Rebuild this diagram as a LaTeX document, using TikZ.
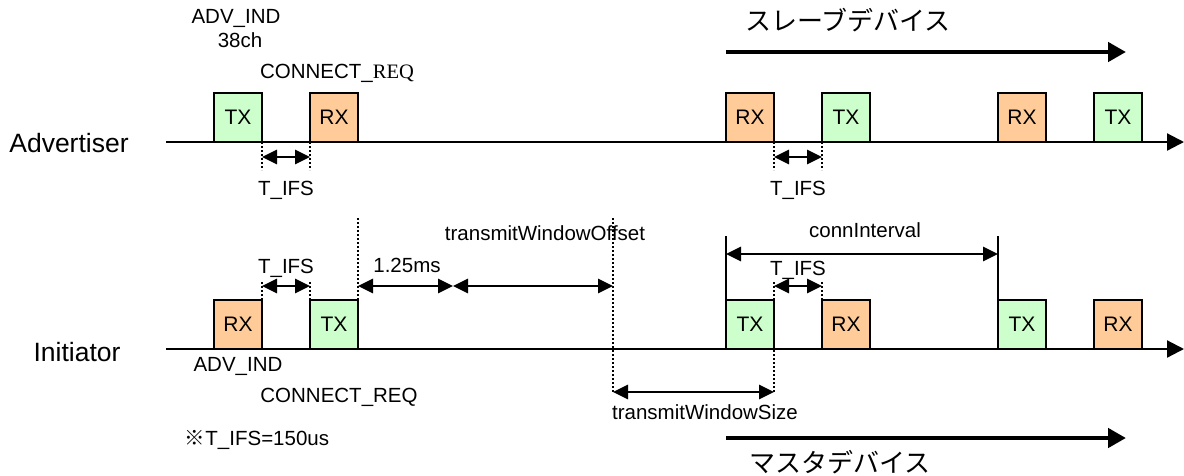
\documentclass[tikz,border=0pt]{standalone}
\usepackage{fontspec}
\setmainfont{Liberation Sans}
\newfontfamily\serif{Liberation Serif}
\newfontfamily\cjk{Noto Sans CJK JP}
\usetikzlibrary{arrows.meta}
\definecolor{txgreen}{HTML}{CCFFCC}
\definecolor{rxorange}{HTML}{FFCC99}
\tikzset{
  slotbox/.style={draw, line width=2.2pt, minimum width=48pt, minimum height=49pt, inner sep=0pt, outer sep=0pt, font=\fontsize{21}{24}\selectfont},
  txbox/.style={slotbox, fill=txgreen},
  rxbox/.style={slotbox, fill=rxorange},
  axis/.style={line width=2.2pt, -{Triangle[length=17pt,width=17pt]}},
  role/.style={-{Triangle[length=18pt,width=19pt]}, line width=4.5pt},
  tick/.style={line width=2pt, dotted},
  span/.style={{Triangle[length=15pt,width=14pt]}-{Triangle[length=15pt,width=14pt]}, line width=2.8pt},
  lbl/.style={inner sep=0pt},
}

\begin{document}
\begin{tikzpicture}[x=1pt, y=-1pt, font=\fontsize{20.5}{23}\selectfont]
  \useasboundingbox (0,0) rectangle (1184,475);
  % time axes
  \node[lbl, font=\fontsize{26.5}{29}\selectfont] (adv) at (69,143) {Advertiser};
  \node[lbl, font=\fontsize{26.5}{29}\selectfont] (ini) at (77,352) {Initiator};
  \coordinate (adv0) at (166,142); \coordinate (adv1) at (1184,142);
  \coordinate (ini0) at (166,349); \coordinate (ini1) at (1184,349);
  \draw[axis] (adv0) -- (adv1);
  \draw[axis] (ini0) -- (ini1);
  % slots, advertiser row y=117.5, initiator row y=324.5
  \foreach \n/\x/\k/\t in {a1/238/txbox/TX, a2/334/rxbox/RX, a3/750/rxbox/RX, a4/846/txbox/TX, a5/1022/rxbox/RX, a6/1118/txbox/TX}{
    \node[\k] (\n) at (\x,117.5) {\t};}
  \foreach \n/\x/\k/\t in {i1/238/rxbox/RX, i2/334/txbox/TX, i3/750/txbox/TX, i4/846/rxbox/RX, i5/1022/txbox/TX, i6/1118/rxbox/RX}{
    \node[\k] (\n) at (\x,324.5) {\t};}
  % advertiser T_IFS
  \draw[tick] (a1.south east) -- ++(0,28);
  \draw[tick] (a2.south west) -- ++(0,28);
  \draw[span] ([yshift=-15pt]a1.south east) -- ([yshift=-15pt]a2.south west);
  \node[lbl] (ifs1) at (286,190) {T\_IFS};
  \draw[tick] (a3.south east) -- ++(0,28);
  \draw[tick] (a4.south west) -- ++(0,28);
  \draw[span] ([yshift=-15pt]a3.south east) -- ([yshift=-15pt]a4.south west);
  \node[lbl] (ifs2) at (798,190) {T\_IFS};
  % initiator T_IFS
  \draw[tick] (i1.north east) -- ++(0,-18);
  \draw[tick] (i2.north west) -- ++(0,-18);
  \draw[span] ([yshift=14pt]i1.north east) -- ([yshift=14pt]i2.north west);
  \node[lbl] (ifs3) at (286,268) {T\_IFS};
  % transmit window
  \coordinate (off) at (613,218); \coordinate (offb) at (613,392);
  \coordinate (m125) at ([xshift=95pt,yshift=14pt]i2.north east);
  \draw[tick] (i2.north east) -- ++(0,-82);
  \draw[tick] (off) -- (offb);
  \draw[span] ([yshift=14pt]i2.north east) -- (m125);
  \draw[span] (m125) -- (off |- m125);
  \node[lbl] (ms) at (407,265) {1.25ms};
  \node[lbl] (wofs) at (545,233) {transmitWindowOffset};
  \draw[tick] ([yshift=18pt]i3.north east) -- (i3.south east |- offb);
  \draw[span] (offb) -- (i3.south east |- offb);
  \node[lbl] (wsize) at (705,412) {transmitWindowSize};
  \draw[tick] (i4.north west) -- ++(0,-18);
  \draw[span] ([yshift=14pt]i3.north east) -- ([yshift=14pt]i4.north west);
  \node[lbl] (ifs4) at (798,270) {T\_IFS};
  % connInterval
  \draw[line width=2pt] (i3.north west) -- ++(0,-64);
  \draw[line width=2pt] (i5.north west) -- ++(0,-64);
  \draw[span] ([yshift=46pt]i3.north west) -- ([yshift=46pt]i5.north west);
  \node[lbl] (conn) at (865,230) {connInterval};
  % packet names
  \node[lbl] (advind1) at (236,18) {ADV\_IND};
  \node[lbl] (ch) at (240,40) {38ch};
  \node[lbl] (creq1) at (337,73) {CONNECT\_{\serif REQ}};
  \node[lbl] (advind2) at (238,366) {ADV\_IND};
  \node[lbl] (creq2) at (339,397) {CONNECT\_REQ};
  \node[lbl] (note) at (257,440) {{\cjk ※}T\_IFS=150us};
  % device roles
  \coordinate (s0) at (726,52); \coordinate (s1) at (1126,52);
  \coordinate (m0) at (726,438); \coordinate (m1) at (1126,438);
  \draw[role] (s0) -- (s1);
  \draw[role] (m0) -- (m1);
  \node[lbl, font=\cjk\fontsize{26}{28}\selectfont] (slave) at (848,20) {スレーブデバイス};
  \node[lbl, font=\cjk\fontsize{26}{28}\selectfont] (master) at (840,462) {マスタデバイス};
\end{tikzpicture}
\end{document}
